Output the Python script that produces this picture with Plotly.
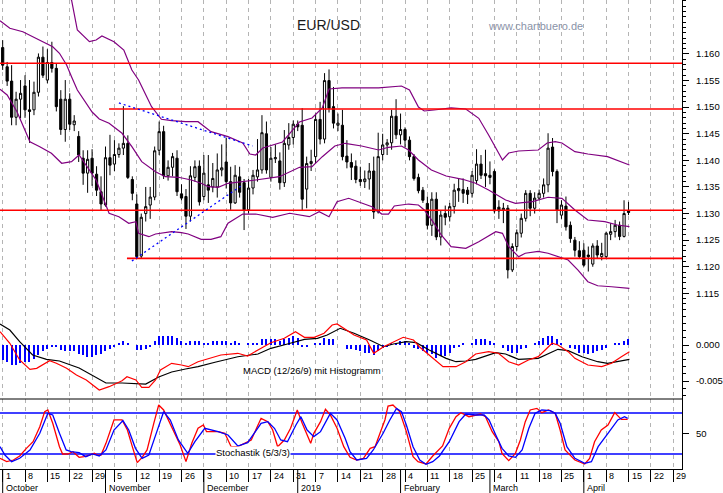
import plotly.graph_objects as go

# ---------------- data ----------------
idx = list(range(141))  # trading days from Mon 1 Oct 2018 to Mon 15 Apr 2019

opens = [1.1612,1.1576,1.1549,1.1481,1.1515,1.1540,1.1495,1.1495,1.1528,1.1594,
         1.1551,1.1584,1.1573,1.1515,1.1458,1.1515,1.1467,1.1445,1.1404,1.1376,
         1.1404,1.1374,1.1341,1.1316,1.1405,1.1393,1.1411,1.1423,1.1432,1.1364,
         1.1318,1.1220,1.1300,1.1316,1.1331,1.1419,1.1454,1.1371,1.1387,1.1404,
         1.1337,1.1332,1.1295,1.1368,1.1389,1.1332,1.1354,1.1350,1.1350,1.1382,
         1.1397,1.1360,1.1320,1.1369,1.1358,1.1307,1.1348,1.1369,1.1382,1.1450,
         1.1368,1.1403,1.1399,1.1358,1.1429,1.1443,1.1468,1.1466,1.1346,1.1394,
         1.1407,1.1477,1.1440,1.1550,1.1501,1.1466,1.1466,1.1408,1.1396,1.1389,
         1.1364,1.1360,1.1365,1.1380,1.1303,1.1411,1.1429,1.1433,1.1483,1.1448,
         1.1458,1.1438,1.1407,1.1368,1.1344,1.1319,1.1278,1.1327,1.1256,1.1300,
         1.1294,1.1313,1.1343,1.1345,1.1344,1.1338,1.1362,1.1393,1.1375,1.1372,
         1.1379,1.1312,1.1307,1.1310,1.1194,1.1238,1.1263,1.1291,1.1338,1.1310,
         1.1329,1.1338,1.1354,1.1425,1.1379,1.1297,1.1314,1.1278,1.1250,1.1230,
         1.1231,1.1222,1.1205,1.1239,1.1219,1.1219,1.1261,1.1266,1.1278,1.1257,
         1.1305]
highs = [1.1626,1.1585,1.1579,1.1529,1.1551,1.1560,1.1551,1.1548,1.1601,1.1614,
         1.1609,1.1623,1.1582,1.1532,1.1551,1.1526,1.1485,1.1455,1.1419,1.1419,
         1.1421,1.1389,1.1370,1.1426,1.1448,1.1438,1.1432,1.1502,1.1447,1.1370,
         1.1336,1.1300,1.1350,1.1350,1.1426,1.1473,1.1465,1.1400,1.1414,1.1419,
         1.1355,1.1346,1.1389,1.1400,1.1400,1.1410,1.1410,1.1395,1.1413,1.1430,
         1.1442,1.1388,1.1391,1.1388,1.1365,1.1365,1.1382,1.1440,1.1485,1.1473,
         1.1425,1.1430,1.1415,1.1457,1.1470,1.1475,1.1475,1.1498,1.1407,1.1420,
         1.1488,1.1510,1.1564,1.1571,1.1538,1.1488,1.1495,1.1438,1.1413,1.1400,
         1.1388,1.1381,1.1395,1.1407,1.1452,1.1450,1.1440,1.1495,1.1515,1.1488,
         1.1462,1.1445,1.1412,1.1375,1.1350,1.1332,1.1340,1.1340,1.1305,1.1315,
         1.1320,1.1356,1.1365,1.1366,1.1350,1.1380,1.1421,1.1410,1.1420,1.1398,
         1.1383,1.1325,1.1320,1.1316,1.1244,1.1270,1.1300,1.1344,1.1344,1.1340,
         1.1345,1.1366,1.1451,1.1442,1.1383,1.1325,1.1332,1.1285,1.1256,1.1248,
         1.1244,1.1238,1.1244,1.1250,1.1245,1.1266,1.1282,1.1288,1.1285,1.1325,
         1.1322]
lows = [1.1570,1.1540,1.1466,1.1466,1.1479,1.1480,1.1433,1.1485,1.1520,1.1555,
        1.1545,1.1565,1.1492,1.1448,1.1435,1.1457,1.1455,1.1397,1.1354,1.1339,
        1.1352,1.1333,1.1305,1.1313,1.1372,1.1380,1.1405,1.1410,1.1365,1.1325,
        1.1216,1.1216,1.1285,1.1290,1.1325,1.1410,1.1365,1.1362,1.1370,1.1333,
        1.1325,1.1271,1.1285,1.1360,1.1315,1.1325,1.1320,1.1340,1.1330,1.1370,
        1.1347,1.1307,1.1318,1.1330,1.1269,1.1300,1.1336,1.1360,1.1375,1.1375,
        1.1360,1.1395,1.1345,1.1350,1.1420,1.1430,1.1455,1.1306,1.1310,1.1380,
        1.1395,1.1430,1.1432,1.1490,1.1460,1.1455,1.1400,1.1385,1.1363,1.1357,
        1.1352,1.1348,1.1345,1.1290,1.1300,1.1400,1.1410,1.1420,1.1440,1.1430,
        1.1425,1.1400,1.1362,1.1338,1.1320,1.1270,1.1258,1.1250,1.1240,1.1278,
        1.1285,1.1300,1.1322,1.1320,1.1318,1.1330,1.1355,1.1365,1.1350,1.1355,
        1.1300,1.1290,1.1282,1.1178,1.1190,1.1230,1.1255,1.1285,1.1295,1.1300,
        1.1325,1.1330,1.1340,1.1370,1.1282,1.1290,1.1268,1.1245,1.1219,1.1215,
        1.1200,1.1191,1.1200,1.1215,1.1212,1.1215,1.1250,1.1255,1.1250,1.1255,
        1.1297]
closes = [1.1579,1.1549,1.1481,1.1515,1.1526,1.1495,1.1492,1.1528,1.1594,1.1560,
          1.1584,1.1573,1.1501,1.1458,1.1515,1.1468,1.1474,1.1410,1.1376,1.1402,
          1.1376,1.1344,1.1318,1.1405,1.1391,1.1411,1.1423,1.1432,1.1368,1.1338,
          1.1219,1.1293,1.1313,1.1331,1.1418,1.1454,1.1371,1.1387,1.1407,1.1341,
          1.1329,1.1295,1.1371,1.1388,1.1322,1.1376,1.1344,1.1366,1.1382,1.1386,
          1.1360,1.1320,1.1372,1.1340,1.1307,1.1348,1.1372,1.1382,1.1452,1.1382,
          1.1404,1.1405,1.1358,1.1432,1.1443,1.1468,1.1463,1.1327,1.1394,1.1398,
          1.1477,1.1440,1.1550,1.1498,1.1470,1.1470,1.1407,1.1397,1.1387,1.1364,
          1.1360,1.1365,1.1380,1.1303,1.1407,1.1429,1.1433,1.1483,1.1448,1.1458,
          1.1438,1.1407,1.1366,1.1343,1.1325,1.1278,1.1327,1.1256,1.1297,1.1293,
          1.1313,1.1344,1.1347,1.1338,1.1336,1.1372,1.1393,1.1372,1.1371,1.1368,
          1.1305,1.1305,1.1310,1.1194,1.1238,1.1264,1.1291,1.1338,1.1310,1.1329,
          1.1338,1.1354,1.1423,1.1379,1.1307,1.1316,1.1275,1.1253,1.1231,1.1219,
          1.1203,1.1219,1.1239,1.1222,1.1225,1.1263,1.1266,1.1278,1.1257,1.1300,
          1.1302]

# Bollinger bands
bb_up_x = [-0.6,8.3,13.8,15.4,16.7,19.4,20.9,22.2,24.9,27.1,
           28.9,30.4,33.3,35.5,37.8,40.9,43.7,46.6,50.4,53.7,
           55.3,56.6,58.2,62.6,66.4,69.2,71.5,73.0,75.9,80.3,
           84.1,89.2,91.0,93.0,94.3,96.5,100.3,103.6,106.5,108.7,
           111.8,113.2,115.4,119.8,121.8,123.6,125.1,128.0,130.9,135.3,140.2]
bb_up = [1.17767,1.17485,1.17109,1.17015,1.16451,1.16231,1.16263,1.16338,1.16231,1.16075,
         1.15699,1.15511,1.15009,1.14772,1.14746,1.14727,1.14727,1.14539,1.14445,1.14327,
         1.14120,1.14101,1.14233,1.14345,1.14722,1.14797,1.14985,1.15342,1.15361,1.15361,
         1.15361,1.15398,1.15323,1.15003,1.14928,1.14947,1.14985,1.14966,1.14791,1.14477,
         1.14007,1.14138,1.14176,1.14195,1.14327,1.14351,1.14327,1.14163,1.14120,1.14069,1.13913]
bb_mid_x = [-0.6,1.6,4.5,6.7,8.9,11.2,12.7,14.3,15.4,16.7,
            20.0,21.6,23.8,26.7,28.9,31.1,34.2,36.4,39.3,42.2,
            44.4,46.0,48.2,50.4,56.6,61.9,66.4,69.2,71.5,74.3,
            76.6,80.3,84.1,86.3,89.2,90.8,93.0,95.9,99.2,102.9,
            105.8,108.7,112.5,114.7,118.5,122.0,125.1,128.0,130.9,134.7,137.5,140.2]
bb_mid = [1.16626,1.16483,1.16419,1.16325,1.16220,1.16137,1.16013,1.15793,1.15573,1.15323,
          1.14909,1.14778,1.14697,1.14509,1.14257,1.13975,1.13787,1.13693,1.13682,1.13631,
          1.13569,1.13505,1.13494,1.13569,1.13631,1.13693,1.13870,1.13881,1.14069,1.14270,
          1.14321,1.14270,1.14195,1.14246,1.14270,1.14195,1.14007,1.13819,1.13706,1.13644,
          1.13569,1.13443,1.13255,1.13193,1.13223,1.13306,1.13287,1.13067,1.12879,1.12847,1.12785,1.12753]
bb_lo_x = [-0.6,1.0,3.2,6.1,8.3,10.9,13.2,15.4,17.1,20.9,
           23.8,26.0,28.2,29.8,30.4,32.7,34.2,37.8,40.0,41.5,
           44.4,46.6,48.8,50.4,53.7,56.6,60.4,64.2,68.6,70.8,
           73.0,74.8,77.4,80.3,82.6,84.8,86.3,87.6,90.8,93.0,
           94.3,96.5,98.1,100.3,103.6,106.5,110.3,111.8,113.2,115.4,
           116.9,119.8,122.0,126.5,128.7,130.9,133.1,136.2,140.2]
bb_lo = [1.15336,1.15229,1.14915,1.14351,1.14257,1.14133,1.13945,1.13975,1.14101,1.13631,
         1.13005,1.12941,1.12817,1.12847,1.12629,1.12565,1.12616,1.12659,1.12640,1.12616,
         1.12516,1.12516,1.12565,1.12817,1.12991,1.12991,1.12929,1.13005,1.12941,1.13035,
         1.12941,1.13223,1.13287,1.13193,1.13129,1.12991,1.12991,1.13142,1.13179,1.13161,
         1.13067,1.12817,1.12597,1.12377,1.12347,1.12471,1.12659,1.12628,1.12377,1.12189,
         1.12253,1.12290,1.12253,1.12126,1.11938,1.11718,1.11643,1.11624,1.11594]

# horizontal support/resistance levels and trend lines
levels = [1.15825, 1.14966, 1.13061, 1.12158]
level_starts = [-0.6, 23.8, -0.6, 27.8]
trend1_x = [26.0, 55.9]
trend1_y = [1.15079, 1.14270]
trend2_x = [28.9, 53.3]
trend2_y = [1.12108, 1.13518]

# MACD
hist = [-0.0021,-0.0023,-0.0028,-0.0028,-0.0025,-0.0023,-0.0023,-0.0019,-0.0014,-0.0009,
        -0.0005,-0.0003,-0.0003,-0.0007,-0.0008,-0.0009,-0.0009,-0.0012,-0.0014,-0.0016,
        -0.0016,-0.0014,-0.0012,-0.0008,-0.0006,-0.0002,0.0003,0.0005,0.0003,0.0000,
        -0.0007,-0.0007,-0.0006,-0.0003,0.0006,0.0013,0.0013,0.0013,0.0013,0.0010,
        0.0006,0.0002,0.0006,0.0006,0.0005,0.0003,0.0003,0.0005,0.0006,0.0006,
        0.0006,0.0003,0.0006,0.0003,0.0000,0.0002,0.0002,0.0003,0.0009,0.0009,
        0.0009,0.0008,0.0006,0.0008,0.0010,0.0013,0.0010,-0.0002,-0.0002,0.0000,
        0.0003,0.0003,0.0010,0.0009,0.0009,0.0000,0.0000,-0.0005,-0.0006,-0.0007,
        -0.0009,-0.0011,-0.0011,-0.0014,-0.0008,-0.0004,-0.0002,0.0003,0.0003,0.0006,
        0.0006,0.0003,-0.0004,-0.0006,-0.0008,-0.0011,-0.0013,-0.0018,-0.0015,-0.0015,
        -0.0011,-0.0004,-0.0002,0.0003,0.0000,0.0003,0.0008,0.0008,0.0008,0.0006,
        0.0003,0.0000,-0.0004,-0.0008,-0.0011,-0.0011,-0.0006,-0.0004,0.0000,0.0003,
        0.0006,0.0010,0.0013,0.0013,0.0008,0.0002,0.0000,-0.0004,-0.0006,-0.0011,
        -0.0011,-0.0013,-0.0011,-0.0009,-0.0007,-0.0004,0.0000,0.0002,0.0003,0.0006,
        0.0008]
signal_x = [-0.6,1.6,3.8,6.7,9.8,12.7,17.1,19.4,23.1,26.7,
            29.8,32.0,34.9,37.8,40.9,43.7,47.5,52.6,57.1,60.0,
            63.7,67.5,70.4,72.6,75.5,78.6,82.1,85.2,87.4,90.3,
            92.5,95.4,99.2,101.4,103.6,105.8,110.3,112.5,115.4,119.8,
            124.2,126.5,129.6,133.1,135.3,138.4,140.2]
signal_y = [0.00292,0.00208,0.00046,-0.00139,-0.00199,-0.00222,-0.00319,-0.00403,-0.00528,-0.00528,
            -0.00542,-0.00542,-0.00444,-0.00375,-0.00333,-0.00301,-0.00240,-0.00163,-0.00125,-0.00046,
            0.00014,0.00079,0.00093,0.00139,0.00232,0.00163,0.00069,-0.00024,0.00014,0.00046,
            0.00032,-0.00069,-0.00185,-0.00232,-0.00222,-0.00199,-0.00107,-0.00125,-0.00199,-0.00185,
            -0.00060,-0.00079,-0.00163,-0.00232,-0.00254,-0.00218,-0.00199]
macd_x = [-0.6,1.6,3.8,6.1,7.6,10.5,12.0,14.3,16.5,18.7,
          21.6,23.8,26.7,27.8,29.8,31.1,32.7,34.2,35.3,37.8,
          40.0,41.5,43.7,46.6,48.8,52.6,54.8,57.1,60.0,63.0,
          65.5,67.5,69.7,71.9,73.7,74.8,76.3,78.6,81.4,83.0,
          85.2,87.4,89.6,91.9,93.2,95.4,98.5,101.4,103.6,105.8,
          108.7,110.9,113.2,115.4,117.6,119.8,122.9,124.2,126.5,128.0,
          130.9,134.0,136.2,138.4,140.2]
macd_y = [0.00185,0.00024,-0.00208,-0.00338,-0.00324,-0.00218,-0.00254,-0.00324,-0.00417,-0.00486,
          -0.00625,-0.00579,-0.00496,-0.00440,-0.00486,-0.00588,-0.00588,-0.00486,-0.00347,-0.00254,
          -0.00278,-0.00301,-0.00232,-0.00185,-0.00139,-0.00115,-0.00153,-0.00069,0.00032,0.00093,
          0.00185,0.00107,0.00107,0.00163,0.00278,0.00292,0.00232,0.00139,0.00069,-0.00115,
          -0.00024,0.00046,0.00107,0.00069,-0.00024,-0.00139,-0.00301,-0.00301,-0.00232,-0.00125,
          -0.00093,-0.00115,-0.00232,-0.00278,-0.00208,-0.00162,0.00024,0.00000,-0.00093,-0.00185,
          -0.00278,-0.00301,-0.00254,-0.00162,-0.00093]

# Stochastic (5/3/3)
k_x = [-0.6,0.9,2.4,3.8,5.3,6.8,8.3,9.4,10.1,11.2,
       12.7,13.4,14.6,15.7,17.1,18.2,19.4,20.5,21.2,22.0,
       23.1,24.9,26.7,27.9,29.0,30.1,31.2,32.3,33.8,34.9,
       36.0,37.8,39.7,41.0,42.3,43.7,44.9,45.6,48.2,49.7,
       51.1,52.6,54.1,55.6,57.8,59.3,60.4,61.5,63.0,64.4,
       65.9,67.0,68.9,69.6,71.1,72.2,73.3,74.8,76.3,77.7,
       79.2,80.7,82.2,83.3,84.4,85.5,86.2,87.3,88.8,90.3,
       91.8,92.9,94.7,96.2,98.4,99.9,101.4,102.5,104.3,106.9,
       108.0,109.5,111.0,111.7,113.2,114.7,115.8,116.9,118.0,119.5,
       120.6,122.1,123.6,124.7,125.8,128.0,130.2,131.3,132.4,133.9,
       135.4,136.9,138.4,139.8]
k_y = [13.7,8.8,11.2,17.1,28.3,38.0,60.0,82.0,84.4,64.9,
       30.7,20.0,20.0,23.4,15.1,16.1,18.5,21.0,18.5,18.5,
       35.6,69.8,69.8,55.1,30.7,7.3,15.1,25.9,64.9,91.7,
       84.4,60.0,33.2,8.8,35.6,57.6,62.4,52.7,52.7,50.3,
       30.7,30.7,35.6,40.5,72.2,67.3,55.1,30.7,40.5,57.6,
       84.4,64.9,35.6,50.3,67.3,85.4,77.1,57.6,30.7,15.1,
       11.2,13.7,28.3,30.7,50.3,69.8,90.2,91.7,82.0,52.7,
       16.1,8.8,5.4,17.1,31.7,57.6,74.6,80.5,74.6,78.5,
       74.6,52.7,38.0,21.0,10.3,21.0,40.5,67.3,84.4,86.8,
       80.5,84.4,79.5,55.1,25.9,11.2,5.4,13.7,38.0,55.1,
       62.4,80.5,70.7,70.7]
d_x = [-0.6,0.5,2.0,3.8,6.1,8.3,10.1,11.2,12.7,14.2,
       15.3,17.1,18.6,20.1,21.6,23.1,24.9,26.9,28.2,29.7,
       31.2,32.7,34.1,36.0,37.5,39.3,41.4,43.0,45.2,48.2,
       50.4,52.6,54.8,56.3,57.8,59.3,60.8,62.2,63.7,65.6,
       66.7,68.1,69.6,71.1,73.3,74.8,76.6,77.7,79.2,81.4,
       82.9,85.1,86.6,88.1,89.2,90.3,91.8,93.3,94.7,96.2,
       97.7,99.9,102.1,103.6,105.8,107.7,108.8,110.3,111.7,113.2,
       114.7,116.2,117.7,119.1,120.6,122.5,123.6,124.7,126.2,128.0,
       130.2,131.7,133.2,135.4,137.6,139.1,139.8]
d_y = [30.7,18.5,8.8,13.7,25.9,50.3,79.5,77.1,50.3,25.9,
       23.4,22.0,16.1,20.0,17.1,25.9,55.1,68.8,55.1,28.3,
       13.7,18.5,45.4,81.9,69.8,40.5,21.0,38.0,57.6,52.7,
       47.8,31.7,36.6,50.3,64.9,67.3,57.6,40.5,38.0,62.4,
       74.6,55.1,45.4,52.7,79.5,69.8,42.9,23.4,11.2,13.7,
       25.9,50.3,69.8,86.8,82.0,62.4,30.7,11.2,4.9,8.8,
       17.1,38.0,67.3,78.5,77.1,77.1,69.8,47.8,28.3,17.1,
       15.1,25.9,57.6,79.5,84.4,83.4,79.5,64.9,30.7,13.7,
       6.3,8.8,30.7,50.3,69.8,74.6,72.2]
stoch_levels = [80, 20]

# axis labels
week_labels = ["1","8","15","22","29","5","12","19","26","3","10","17","24","31",
               "7","14","21","28","4","11","18","25","4","11","18","25","1","8","15","22","29"]
month_labels = ["October","November","December","2019","February","March","April"]
month_start_idx = [0, 23, 45, 66, 89, 109, 130]
price_ticks = [1.115, 1.120, 1.125, 1.130, 1.135, 1.140, 1.145, 1.150, 1.155, 1.160]
macd_ticks = [0.0, -0.005]
stoch_ticks = [50]

# ---------------- figure ----------------
X_RANGE = [-0.6, 151.96]
PLOT_H = 469.0
W_PLOT = 688.0

fig = go.Figure()

fig.add_trace(go.Candlestick(
    x=idx, open=opens, high=highs, low=lows, close=closes, xaxis='x', yaxis='y',
    increasing=dict(line=dict(color='black', width=1), fillcolor='white'),
    decreasing=dict(line=dict(color='black', width=1), fillcolor='black'),
    whiskerwidth=0, hoverinfo='skip', showlegend=False))

for bx, by in [(bb_up_x, bb_up), (bb_mid_x, bb_mid), (bb_lo_x, bb_lo)]:
    fig.add_trace(go.Scatter(x=bx, y=by, mode='lines', yaxis='y',
                             line=dict(color='#800080', width=1.2), hoverinfo='skip'))

for lv, st in zip(levels, level_starts):
    fig.add_trace(go.Scatter(x=[st, X_RANGE[1]], y=[lv, lv], mode='lines', yaxis='y',
                             line=dict(color='#ff0000', width=1.6), hoverinfo='skip'))

for tx, ty in [(trend1_x, trend1_y), (trend2_x, trend2_y)]:
    fig.add_trace(go.Scatter(x=tx, y=ty, mode='lines', yaxis='y',
                             line=dict(color='#0000ff', width=1.3, dash='2px,3px'), hoverinfo='skip'))

fig.add_trace(go.Bar(x=idx, y=hist, width=0.28, yaxis='y2',
                     marker=dict(color='#0000ff', line=dict(width=0)), hoverinfo='skip'))
fig.add_trace(go.Scatter(x=signal_x, y=signal_y, mode='lines', yaxis='y2',
                         line=dict(color='black', width=1.2), hoverinfo='skip'))
fig.add_trace(go.Scatter(x=macd_x, y=macd_y, mode='lines', yaxis='y2',
                         line=dict(color='#ff0000', width=1.2), hoverinfo='skip'))

for sl in stoch_levels:
    fig.add_trace(go.Scatter(x=X_RANGE, y=[sl, sl], mode='lines', yaxis='y3',
                             line=dict(color='#0000ff', width=1.5), hoverinfo='skip'))
fig.add_trace(go.Scatter(x=k_x, y=k_y, mode='lines', yaxis='y3',
                         line=dict(color='#ff0000', width=1.3), hoverinfo='skip'))
fig.add_trace(go.Scatter(x=d_x, y=d_y, mode='lines', yaxis='y3',
                         line=dict(color='#0000ff', width=1.3), hoverinfo='skip'))

dom_stoch = (PLOT_H - 399) / PLOT_H
dom_macd = (PLOT_H - 312) / PLOT_H

tickfont = dict(family='Arial', size=9.5, color='black')
common_y = dict(side='right', anchor='x', showgrid=False, zeroline=False, showline=True,
                linecolor='black', linewidth=1, ticks='outside', ticklen=6, tickcolor='black',
                tickwidth=1, tickfont=tickfont, fixedrange=True, ticklabelstandoff=5)

annotations = [
    dict(text='EUR/USD', x=331 / W_PLOT, y=1 - 15 / PLOT_H, xref='paper', yref='paper',
         showarrow=False, font=dict(family='Arial', size=14, color='#1a1a1a')),
    dict(text='www.chartbuero.de', x=590.5 / W_PLOT, y=1 - 18 / PLOT_H, xref='paper', yref='paper',
         showarrow=False, font=dict(family='Arial', size=11, color='#8a93a8')),
    dict(text='MACD (12/26/9) mit Histogramm', x=243 / W_PLOT, y=1 - 378 / PLOT_H,
         xref='paper', yref='paper', xanchor='left', showarrow=False,
         font=dict(family='Arial', size=9.5, color='black')),
    dict(text='Stochastik (5/3/3)', x=217 / W_PLOT, y=1 - 459 / PLOT_H,
         xref='paper', yref='paper', xanchor='left', showarrow=False, bgcolor='white', borderpad=0,
         font=dict(family='Arial', size=9.5, color='black')),
]
for k, lab in enumerate(week_labels):
    annotations.append(dict(text=lab, x=5 * k, xref='x', y=-(476 - 469) / PLOT_H, yref='paper',
                            xanchor='left', yanchor='middle', xshift=1, showarrow=False,
                            font=dict(family='Arial', size=9, color='black')))
for m, lab in zip(month_start_idx, month_labels):
    annotations.append(dict(text=lab, x=m, xref='x', y=-(488 - 469) / PLOT_H, yref='paper',
                            xanchor='left', yanchor='middle', xshift=1, showarrow=False,
                            font=dict(family='Arial', size=9, color='black')))

shapes = [dict(type='line', xref='paper', x0=0, x1=1, yref='paper', y0=dom_stoch, y1=dom_stoch,
               line=dict(color='black', width=1))]
for m in month_start_idx:
    shapes.append(dict(type='line', xref='x', x0=m, x1=m, yref='paper', y0=-24 / PLOT_H, y1=0,
                       line=dict(color='black', width=1)))

fig.update_layout(
    width=723, height=493, margin=dict(l=0, r=35, t=0, b=24, pad=0),
    paper_bgcolor='white', plot_bgcolor='white', showlegend=False, hovermode=False,
    bargap=0, font=dict(family='Arial', size=9, color='black'),
    xaxis=dict(range=X_RANGE, anchor='y3', showgrid=True, gridcolor='#b4b4b4', gridwidth=1,
               griddash='4px,4px', tickmode='linear', tick0=0, dtick=5, ticks='outside',
               ticklen=12, tickcolor='black', tickwidth=1, showticklabels=False,
               showline=True, linecolor='black', linewidth=1, zeroline=False,
               rangeslider=dict(visible=False), fixedrange=True),
    yaxis=dict(domain=[dom_macd, 1], range=[1.11149, 1.17015], tickmode='array',
               tickvals=price_ticks, ticktext=[f'{v:.3f}' for v in price_ticks],
               minor=dict(tickmode='linear', tick0=0, dtick=0.001, ticks='outside', ticklen=3,
                          tickcolor='black', showgrid=False),
               **common_y),
    yaxis2=dict(domain=[dom_stoch, dom_macd], range=[-0.0075, 0.004583], tickmode='array',
                tickvals=macd_ticks, ticktext=[f'{v:.3f}' for v in macd_ticks],
                minor=dict(tickmode='linear', tick0=0, dtick=0.001, ticks='outside', ticklen=3,
                           tickcolor='black', showgrid=False),
                **common_y),
    yaxis3=dict(domain=[0, dom_stoch], range=[-1.95, 100.49], tickmode='array',
                tickvals=stoch_ticks, ticktext=[str(v) for v in stoch_ticks],
                **common_y),
    annotations=annotations, shapes=shapes,
)

fig.write_html('out.html')
